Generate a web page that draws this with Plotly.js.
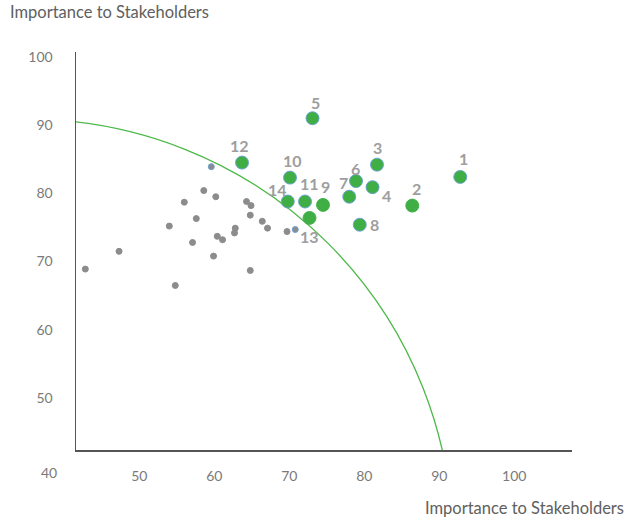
<!DOCTYPE html>
<html>
<head>
<meta charset="utf-8">
<script src="https://cdn.plot.ly/plotly-3.0.1.min.js"></script>
<style>html,body{margin:0;padding:0;background:#fff;}#chart{width:627px;height:519px;}</style>
</head>
<body>
<div id="chart"></div>
<script>
// Highlighted topics (green)
const topicLabels = ["1","2","3","4","5","6","7","8","9","10","11","12","13","14"];
const topicX = [92.8, 86.4, 81.7, 81.1, 73.1, 78.9, 78.0, 79.4, 74.5, 70.1, 72.1, 63.7, 72.7, 69.8];
const topicY = [82.4, 78.2, 84.2, 80.9, 91.0, 81.8, 79.5, 75.4, 78.3, 82.3, 78.8, 84.5, 76.4, 78.8];
// Other topics (gray)
const otherX = [59.6, 58.6, 60.2, 56.0, 64.3, 64.9, 57.6, 64.8, 54.0, 66.4, 67.1, 69.7, 70.8, 62.8, 62.7, 60.4, 61.1, 57.1, 47.3, 59.9, 42.8, 64.8, 54.8];
const otherY = [83.9, 80.4, 79.5, 78.7, 78.8, 78.2, 76.3, 76.8, 75.2, 75.9, 74.9, 74.4, 74.7, 74.9, 74.2, 73.7, 73.2, 72.8, 71.5, 70.8, 68.9, 68.7, 66.5];
const tickVals = [50, 60, 70, 80, 90, 100];
const axisTitle = "Importance to Stakeholders";

// styling (not data)
const labelOffsets = [[3,-18],[4,-17],[0,-17],[14,8],[3,-16],[-1,-13],[-6,-14],[15,0],[2,-18],[2,-17],[4,-18],[-3,-17],[0,19],[-10,-12]];
const blueEdgeOthers = [1,0,0,0,0,0,0,0,0,0,0,0,1,0,0,0,0,0,0,0,0,0,0];
const topicEdge = [1,0,1,1,1,1,1,1,0,1,1,1,0,1];

const gray = '#8c8c8c';
const green = '#3fae45';
const blue = '#6a9fd6';

const traces = [
  {
    x: otherX, y: otherY, type: 'scatter', mode: 'markers',
    marker: {size: 6, color: gray, line: {width: 1, color: blueEdgeOthers.map(b => b ? blue : gray)}},
    hoverinfo: 'skip', showlegend: false
  },
  {
    x: topicX, y: topicY, type: 'scatter', mode: 'markers',
    marker: {size: 13, color: green, line: {width: 0.9, color: topicEdge.map(b => b ? blue : green)}},
    hoverinfo: 'skip', showlegend: false
  }
];

const annotations = topicLabels.map((t, i) => ({
  x: topicX[i], y: topicY[i], xref: 'x', yref: 'y', text: t, showarrow: false,
  xshift: labelOffsets[i][0], yshift: -labelOffsets[i][1],
  font: {family: 'Lato, sans-serif', size: 16, color: '#9e9e9e', weight: 'bold'}
}));
annotations.push({
  text: axisTitle, xref: 'paper', yref: 'paper', x: -0.137, y: 1.1005,
  xanchor: 'left', yanchor: 'middle', showarrow: false,
  font: {family: 'Lato, sans-serif', size: 16.5, color: '#606060'}
});
annotations.push({
  text: axisTitle, xref: 'paper', yref: 'paper', x: 1.109, y: -0.1457,
  xanchor: 'right', yanchor: 'middle', showarrow: false,
  font: {family: 'Lato, sans-serif', size: 16.5, color: '#606060'}
});
annotations.push({
  text: "40", xref: 'paper', yref: 'paper', x: -0.0544, y: -0.0553,
  xanchor: 'center', yanchor: 'middle', showarrow: false,
  font: {family: 'Lato, sans-serif', size: 14, color: '#7a7a7a'}
});

const layout = {
  width: 627, height: 519,
  margin: {l: 76, r: 55, t: 52, b: 69, pad: 0},
  paper_bgcolor: '#fff', plot_bgcolor: '#fff',
  font: {family: 'Lato, sans-serif', size: 14, color: '#7a7a7a'},
  xaxis: {
    range: [41.56, 107.7], tickvals: tickVals, showgrid: false, zeroline: false,
    showline: true, linecolor: '#555', linewidth: 1.5, ticks: '', ticklabelstandoff: 13,
    fixedrange: true
  },
  yaxis: {
    range: [42.4, 100.7], tickvals: tickVals, showgrid: false, zeroline: false,
    showline: true, linecolor: '#555', linewidth: 1.5, ticks: '', ticklabelstandoff: 19,
    fixedrange: true
  },
  shapes: [{
    type: 'circle', xref: 'x', yref: 'y', layer: 'below',
    x0: -21.5, x1: 91.8, y0: -33.6, y1: 90.85,
    line: {color: '#4cb848', width: 1.3}
  }],
  annotations: annotations,
  showlegend: false
};

Plotly.newPlot('chart', traces, layout, {displayModeBar: false, staticPlot: true});
</script>
</body>
</html>
